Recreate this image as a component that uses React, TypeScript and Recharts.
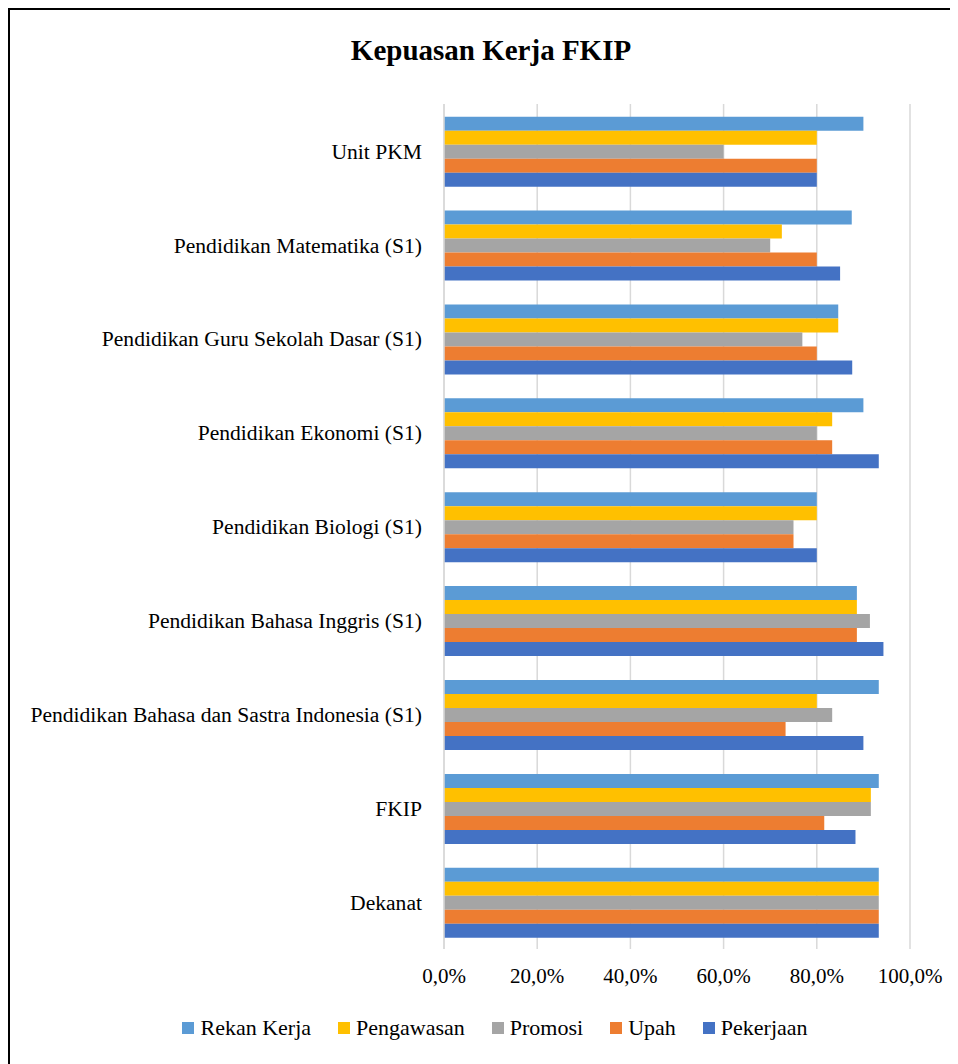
import {
  Bar,
  BarChart,
  CartesianGrid,
  Legend,
  XAxis,
  YAxis,
} from "recharts";

const units = [
  "Unit PKM",
  "Pendidikan Matematika (S1)",
  "Pendidikan Guru Sekolah Dasar (S1)",
  "Pendidikan Ekonomi (S1)",
  "Pendidikan Biologi (S1)",
  "Pendidikan Bahasa Inggris (S1)",
  "Pendidikan Bahasa dan Sastra Indonesia (S1)",
  "FKIP",
  "Dekanat",
];

// percentages per unit, same order as `units`
const rekanKerja = [90, 87.5, 84.6, 90, 80, 88.6, 93.3, 93.3, 93.3];
const pengawasan = [80, 72.5, 84.6, 83.3, 80, 88.6, 80, 91.6, 93.3];
const promosi = [60, 70, 76.9, 80, 75, 91.4, 83.3, 91.6, 93.3];
const upah = [80, 80, 80, 83.3, 75, 88.6, 73.3, 81.6, 93.3];
const pekerjaan = [80, 85, 87.6, 93.3, 80, 94.3, 90, 88.3, 93.3];

const xTicks = [0, 20, 40, 60, 80, 100];

const series = [
  { key: "rekanKerja", name: "Rekan Kerja", color: "#5b9bd5" },
  { key: "pengawasan", name: "Pengawasan", color: "#ffc000" },
  { key: "promosi", name: "Promosi", color: "#a5a5a5" },
  { key: "upah", name: "Upah", color: "#ed7d31" },
  { key: "pekerjaan", name: "Pekerjaan", color: "#4472c4" },
];

const rows = units.map((unit, i) => ({
  unit,
  rekanKerja: rekanKerja[i],
  pengawasan: pengawasan[i],
  promosi: promosi[i],
  upah: upah[i],
  pekerjaan: pekerjaan[i],
}));

const FONT = '"Liberation Serif", "DejaVu Serif", serif';

const pct = (v: number) => `${v.toFixed(1).replace(".", ",")}%`;

function LegendRow() {
  return (
    <div
      style={{
        display: "flex",
        justifyContent: "center",
        alignItems: "center",
        gap: 27,
        height: 24,
        paddingLeft: 70,
        fontFamily: FONT,
        fontSize: 22,
        color: "#000",
      }}
    >
      {series.map((s) => (
        <div key={s.key} style={{ display: "flex", alignItems: "center" }}>
          <span
            style={{ width: 12, height: 12, background: s.color, marginRight: 6 }}
          />
          <span>{s.name}</span>
        </div>
      ))}
    </div>
  );
}

export default function App() {
  return (
    <div
      style={{
        position: "relative",
        width: 960,
        height: 1070,
        borderLeft: "2px solid #000",
        borderTop: "2px solid #000",
        background: "#fff",
        fontFamily: FONT,
      }}
    >
      <style>{`html, body { overflow: hidden; }`}</style>
      <div
        style={{
          position: "absolute",
          top: 24,
          left: 0,
          width: 962,
          textAlign: "center",
          fontWeight: 700,
          fontSize: 29,
          color: "#000",
        }}
      >
        Kepuasan Kerja FKIP
      </div>
      <BarChart
        width={948}
        height={1046}
        data={rows}
        layout="vertical"
        margin={{ top: 94, right: 48, bottom: 16, left: 0 }}
        barCategoryGap="13.5%"
        barGap={0}
      >
        <CartesianGrid horizontal={false} stroke="#d9d9d9" strokeWidth={1.5} />
        <XAxis
          type="number"
          domain={[0, 100]}
          ticks={xTicks}
          tickFormatter={pct}
          axisLine={false}
          tickLine={false}
          tickSize={0}
          tickMargin={19}
          height={67}
          tick={{ fill: "#000", fontSize: 21, fontFamily: FONT }}
        />
        <YAxis
          type="category"
          dataKey="unit"
          width={434}
          axisLine={{ stroke: "#d9d9d9", strokeWidth: 1.5 }}
          tickLine={false}
          tickSize={0}
          tickMargin={22}
          interval={0}
          tick={{ fill: "#000", fontSize: 21.6, fontFamily: FONT }}
        />
        <Legend verticalAlign="bottom" content={() => <LegendRow />} />
        {series.map((s) => (
          <Bar
            key={s.key}
            dataKey={s.key}
            name={s.name}
            fill={s.color}
            isAnimationActive={false}
          />
        ))}
      </BarChart>
    </div>
  );
}
